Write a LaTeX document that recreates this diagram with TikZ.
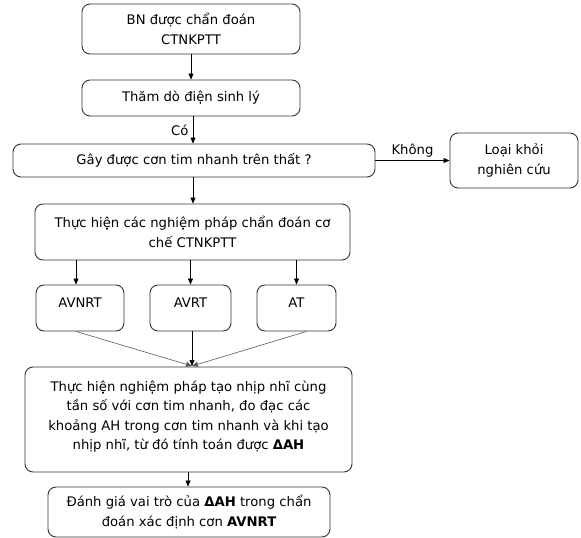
\documentclass[tikz,border=0pt]{standalone}
\usepackage{fontspec}
\setmainfont{DejaVu Sans}
\usetikzlibrary{arrows.meta}

\tikzset{
	box/.style={draw=black!80, line width=0.9pt, rounded corners=8pt, align=center, inner sep=0pt, font=\fontsize{13.2}{19.5}\selectfont},
	smallbox/.style={box, minimum width=#1, text height=22pt, text depth=24pt},
	arr/.style={-{Triangle[length=6pt,width=5pt]}, line width=0.6pt},
	lbl/.style={font=\fontsize{13.2}{15}\selectfont},
}

\begin{document}
\begin{tikzpicture}[x=1pt, y=-1pt]
		\useasboundingbox (0,0) rectangle (581,538);
		\node [box, minimum width=218pt, minimum height=50pt] (BN) at (191, 29) {BN được chẩn đoán\\CTNKPTT};
		\node [box, minimum width=218pt, minimum height=36pt] (TD) at (191, 98) {Thăm dò điện sinh lý};
		\node [box, minimum width=362pt, minimum height=33pt] (GAY) at (194, 160.5) {Gây được cơn tim nhanh trên thất ?};
		\node [box, minimum width=128pt, minimum height=55pt] (LOAI) at (514, 160.5) {Loại khỏi\\nghiên cứu};
		\node [box, minimum width=315pt, minimum height=56pt] (TH) at (192.5, 232) {Thực hiện các nghiệm pháp chẩn đoán cơ\\chế CTNKPTT};
		\node [smallbox=88pt] (AVNRT) at (80, 308) {AVNRT};
		\node [smallbox=81pt] (AVRT) at (190.5, 308) {AVRT};
		\node [smallbox=79pt] (AT) at (296.5, 308) {AT};
		\node [box, minimum width=327pt, minimum height=105pt] (NP) at (188.5, 419.5) {Thực hiện nghiệm pháp tạo nhịp nhĩ cùng\\tần số với cơn tim nhanh, đo đạc các\\khoảng AH trong cơn tim nhanh và khi tạo\\nhịp nhĩ, từ đó tính toán được \textbf{ΔAH}\\[-11pt]};
		\node [box, minimum width=282pt, minimum height=50pt] (DG) at (189, 512) {Đánh giá vai trò của \textbf{ΔAH} trong chẩn\\đoán xác định cơn \textbf{AVNRT}};
		\coordinate (J) at (192, 366);

		\draw [arr] (BN) -- (TD);
		\draw [arr] ([xshift=2pt]TD.south) -- node [lbl, left, xshift=-1pt] {Có} ([xshift=-1pt]GAY.north);
		\draw [arr] (GAY) -- node [lbl, above] {Không} (LOAI);
		\draw [arr] ([xshift=-1pt]GAY.south) -- ([xshift=0.5pt]TH.north);
		\draw [arr] ([xshift=-4pt]AVNRT.north |- TH.south) -- ([xshift=-4pt]AVNRT.north);
		\draw [arr] (AVRT.north |- TH.south) -- (AVRT.north);
		\draw [arr] (AT.north |- TH.south) -- (AT.north);
		\draw [arr, black!65] ([xshift=-4pt]AVNRT.south) -- (J);
		\draw [arr] ([xshift=1.5pt]AVRT.south) -- (J);
		\draw [arr, black!65] ([xshift=10pt]AT.south) -- (J);
		\draw [arr] ([xshift=-0.5pt]NP.south) -- ([xshift=-1pt]DG.north);
\end{tikzpicture}
\end{document}
